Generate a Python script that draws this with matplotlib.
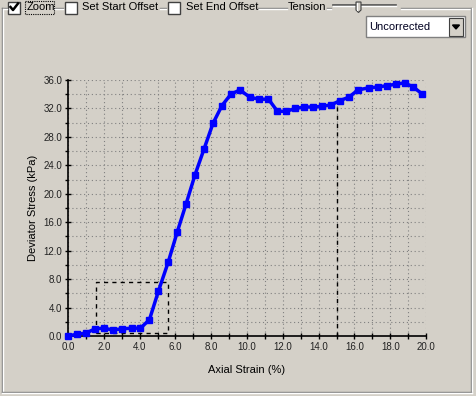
import matplotlib.pyplot as plt
import matplotlib.patches as patches
from matplotlib.ticker import MultipleLocator, FormatStrFormatter

# Axial strain (%) vs deviator stress (kPa)
strain = [0.0, 0.5, 1.0, 1.5, 2.0, 2.5, 3.0, 3.55, 4.05, 4.55, 5.05, 5.6, 6.1,
          6.6, 7.1, 7.6, 8.1, 8.6, 9.1, 9.6, 10.15, 10.65, 11.2, 11.7, 12.2,
          12.7, 13.2, 13.7, 14.2, 14.7, 15.2, 15.7, 16.2, 16.8, 17.3, 17.8,
          18.3, 18.8, 19.3, 19.8]
stress = [0.0, 0.25, 0.4, 1.0, 1.1, 0.85, 1.0, 1.1, 1.1, 2.3, 6.3, 10.4, 14.6,
          18.6, 22.7, 26.3, 29.9, 32.4, 34.0, 34.6, 33.6, 33.3, 33.3, 31.6, 31.6,
          32.0, 32.2, 32.2, 32.3, 32.5, 33.1, 33.6, 34.6, 34.9, 35.0, 35.2,
          35.4, 35.6, 35.0, 34.0]

# zoom box and end offset marker
zoom_x = [1.55, 5.6]
zoom_y = [0.4, 7.6]
end_offset = 15.0
end_offset_top = 32.7

bg = '#D4D0C8'
plt.rcParams['font.family'] = ['Liberation Sans', 'DejaVu Sans']

fig = plt.figure(figsize=(4.76, 3.96), dpi=100, facecolor=bg)

# --- window chrome, drawn in pixel coords ---
ui = fig.add_axes([0, 0, 1, 1])
ui.set_xlim(0, 476)
ui.set_ylim(396, 0)
ui.axis('off')

# group box (etched line)
def hline(x0, x1, y):
    ui.plot([x0, x1], [y, y], color='#808080', lw=1)
    ui.plot([x0, x1], [y + 1, y + 1], color='white', lw=1)

for seg in [(2, 7), (55, 63), (160, 166), (258, 287), (327, 331), (401, 471)]:
    hline(seg[0], seg[1], 7.5)
ui.plot([2, 2], [7.5, 392], color='#808080', lw=1)
ui.plot([3, 3], [8.5, 391], color='white', lw=1)
ui.plot([471, 471], [7.5, 392], color='#808080', lw=1)
ui.plot([472, 472], [7.5, 393], color='white', lw=1)
ui.plot([2, 471], [392, 392], color='#808080', lw=1)
ui.plot([2, 472], [393, 393], color='white', lw=1)

# checkboxes
for cx in [8, 65, 168]:
    ui.add_patch(patches.Rectangle((cx, 1.5), 12, 12, facecolor='white',
                                   edgecolor='#404040', lw=1))
ui.plot([10.5, 13, 18], [7, 10, 3.5], color='black', lw=1.8)

ui.text(27, 7.5, 'Zoom', fontsize=8, va='center', ha='left')
ui.add_patch(patches.Rectangle((25, 1), 29, 13, fill=False, edgecolor='black',
                               lw=0.8, linestyle=(0, (1, 1))))
ui.text(82, 7.5, 'Set Start Offset', fontsize=8, va='center', ha='left')
ui.text(186, 7.5, 'Set End Offset', fontsize=8, va='center', ha='left')
ui.text(288, 7.5, 'Tension', fontsize=8, va='center', ha='left')

# tension slider
ui.plot([333, 396], [4.5, 4.5], color='#505050', lw=1.2)
ui.plot([333, 396], [5.7, 5.7], color='white', lw=1)
ui.add_patch(patches.Polygon([[356, 2], [361, 2], [361, 10], [358.5, 12.5],
                              [356, 10]], closed=True, facecolor=bg,
                             edgecolor='#404040', lw=0.8, zorder=3))
ui.plot([356.5, 356.5], [2.5, 10], color='white', lw=0.8, zorder=4)

# dropdown
ui.add_patch(patches.Rectangle((366, 15.5), 98.5, 21.5, facecolor='white',
                               edgecolor='#808080', lw=1))
ui.add_patch(patches.Rectangle((449, 17.5), 14, 18, facecolor=bg,
                               edgecolor='#404040', lw=0.8))
ui.add_patch(patches.Polygon([[452.5, 25], [459.5, 25], [456, 29]],
                             closed=True, color='black'))
ui.text(369, 26.5, 'Uncorrected', fontsize=8, va='center', ha='left',
        color='#000020')

# --- chart ---
ax = fig.add_axes([68 / 476, 60 / 396, 358 / 476, 256 / 396], facecolor=bg)
ax.set_xlim(0, 20)
ax.set_ylim(0, 36)

ax.xaxis.set_major_locator(MultipleLocator(2))
ax.xaxis.set_minor_locator(MultipleLocator(1))
ax.yaxis.set_major_locator(MultipleLocator(4))
ax.yaxis.set_minor_locator(MultipleLocator(2))
ax.xaxis.set_major_formatter(FormatStrFormatter('%.1f'))
ax.yaxis.set_major_formatter(FormatStrFormatter('%.1f'))

ax.grid(True, which='both', color='#808080', lw=0.8, linestyle=(0, (1, 2.5)))
ax.set_axisbelow(True)

for s in ['top', 'right']:
    ax.spines[s].set_visible(False)
for s in ['left', 'bottom']:
    ax.spines[s].set_color('black')
    ax.spines[s].set_linewidth(1.2)

ax.tick_params(which='both', direction='inout', length=4, width=1,
               labelsize=7, labelcolor='#222222', pad=2)
ax.tick_params(axis='y', which='minor', direction='out', length=2)

# dashed zoom rectangle and end-offset line
ax.plot([zoom_x[0], zoom_x[1], zoom_x[1], zoom_x[0], zoom_x[0]],
        [zoom_y[0], zoom_y[0], zoom_y[1], zoom_y[1], zoom_y[0]],
        color='black', lw=1, linestyle=(0, (3, 3)))
ax.plot([end_offset, end_offset], [0, end_offset_top], color='black', lw=1,
        linestyle=(0, (3, 3)))

ax.plot(strain, stress, color='#0000FF', lw=2.5, marker='s', markersize=5,
        clip_on=False, zorder=5)

ax.set_xlabel('Axial Strain (%)', fontsize=8, labelpad=10)
ax.set_ylabel('Deviator Stress (kPa)', fontsize=8, labelpad=4)

fig.savefig('out.png', dpi=100, facecolor=bg)
